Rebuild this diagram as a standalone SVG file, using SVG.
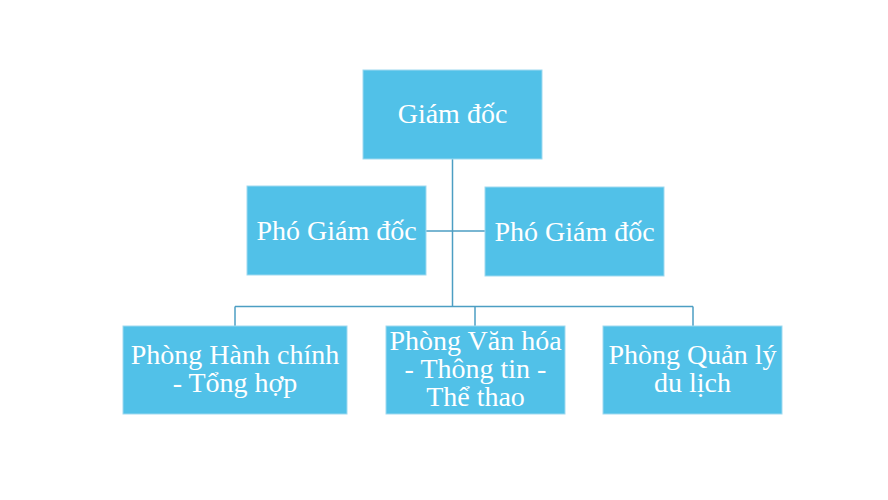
<svg xmlns="http://www.w3.org/2000/svg" width="888" height="500" viewBox="0 0 888 500">
<style>
.box{fill:#51C1E8;stroke:#9FD9F0;stroke-width:1}
.lbl{font-family:"Liberation Serif","Times New Roman",serif;font-size:28px;fill:#FFFFFF;text-anchor:middle}
.conn{stroke:#4C9EC3;stroke-width:1.5;fill:none}
</style>
<rect width="888" height="500" fill="#FFFFFF"/>
<g id="connectors">
<line class="conn" x1="452.5" y1="159" x2="452.5" y2="306.5"/>
<line class="conn" x1="426" y1="231" x2="485" y2="231"/>
<line class="conn" x1="235" y1="306.5" x2="693" y2="306.5"/>
<line class="conn" x1="235" y1="306.5" x2="235" y2="326"/>
<line class="conn" x1="475" y1="306.5" x2="475" y2="326"/>
<line class="conn" x1="693" y1="306.5" x2="693" y2="326"/>
</g>
<g id="giam-doc">
<rect class="box" x="363" y="70" width="179" height="89"/>
<text class="lbl" x="452.5" y="123">Giám đốc</text>
</g>
<g id="pho-giam-doc-1">
<rect class="box" x="247" y="186" width="179" height="89"/>
<text class="lbl" x="336.5" y="240">Phó Giám đốc</text>
</g>
<g id="pho-giam-doc-2">
<rect class="box" x="485" y="187" width="179" height="89"/>
<text class="lbl" x="574.5" y="241">Phó Giám đốc</text>
</g>
<g id="phong-hanh-chinh">
<rect class="box" x="123" y="326" width="224" height="88"/>
<text class="lbl" x="235" y="364">Phòng Hành chính</text>
<text class="lbl" x="235" y="392">- Tổng hợp</text>
</g>
<g id="phong-van-hoa">
<rect class="box" x="386" y="326" width="179" height="88"/>
<text class="lbl" x="475.5" y="350">Phòng Văn hóa</text>
<text class="lbl" x="475.5" y="378">- Thông tin -</text>
<text class="lbl" x="475.5" y="406">Thể thao</text>
</g>
<g id="phong-quan-ly">
<rect class="box" x="603" y="326" width="179" height="88"/>
<text class="lbl" x="692.5" y="364">Phòng Quản lý</text>
<text class="lbl" x="692.5" y="392">du lịch</text>
</g>
</svg>
